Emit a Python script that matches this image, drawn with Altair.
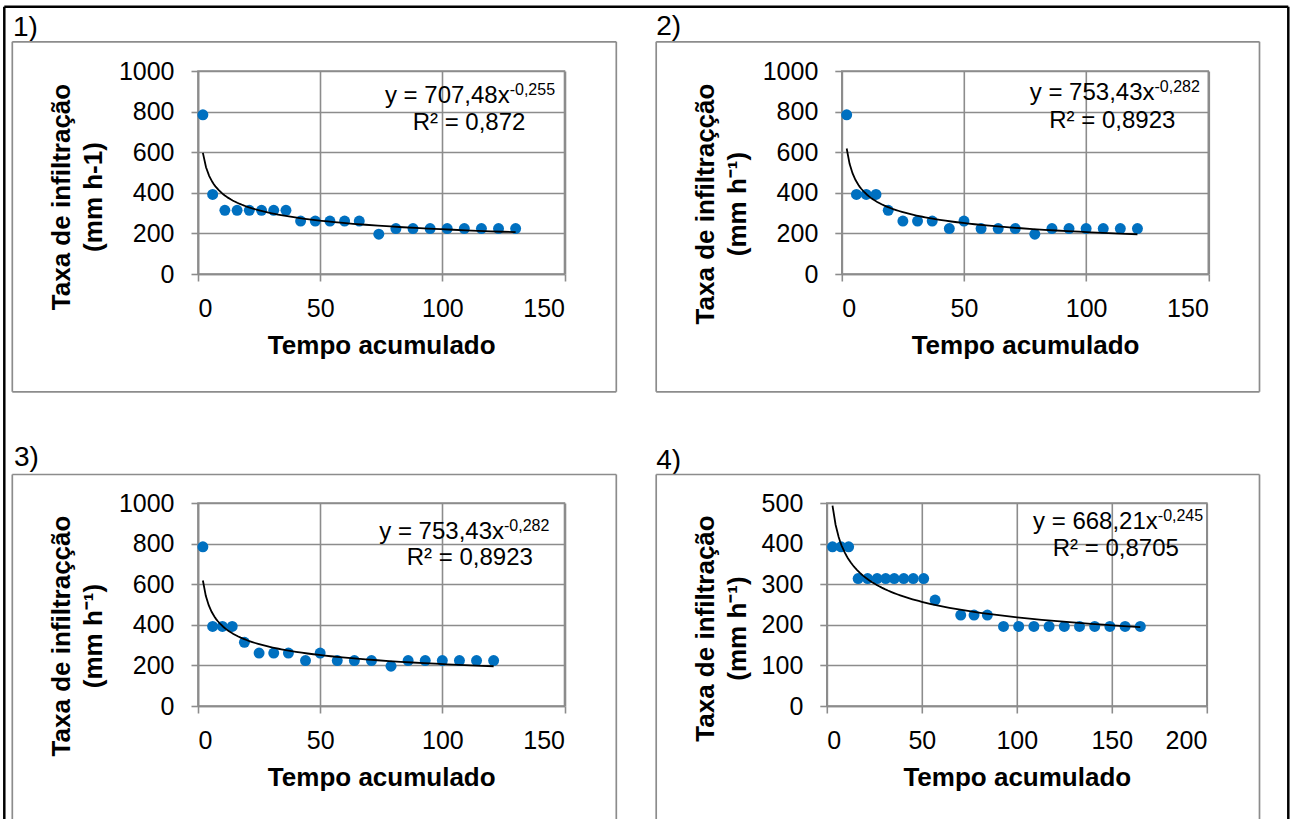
import altair as alt
import pandas as pd

FONT = "Liberation Sans"
GRID = "#8c8c8c"
BLUE = "#0070C0"

# ---- data ----
t1 = [2, 6, 11, 16, 21, 26, 31, 36, 42, 48, 54, 60, 66, 74, 81, 88, 95, 102, 109, 116, 123, 130]
y1 = [784, 392, 314, 314, 314, 314, 314, 314, 261, 261, 261, 261, 261, 196, 224, 224, 224, 224, 224, 224, 224, 224]

t2 = [2, 6, 10, 14, 19, 25, 31, 37, 44, 50, 57, 64, 71, 79, 86, 93, 100, 107, 114, 121]
y2 = [784, 392, 392, 392, 314, 261, 261, 261, 224, 261, 224, 224, 224, 196, 224, 224, 224, 224, 224, 224]

t3 = [2, 6, 10, 14, 19, 25, 31, 37, 44, 50, 57, 64, 71, 79, 86, 93, 100, 107, 114, 121]
y3 = [784, 392, 392, 392, 314, 261, 261, 261, 224, 261, 224, 224, 224, 196, 224, 224, 224, 224, 224, 224]

t4 = [3, 7.5, 11.5, 16.5, 21.5, 26.5, 31, 35.5, 40.5, 45.5, 51, 57, 70.5, 77.5, 84.5,
      93, 101, 109, 117, 125, 133, 141, 149, 157, 165]
y4 = [392, 392, 392, 314, 314, 314, 314, 314, 314, 314, 314, 261, 224, 224, 224,
      196, 196, 196, 196, 196, 196, 196, 196, 196, 196]

x_ticks_a = [0, 50, 100, 150]
x_ticks_b = [0, 50, 100, 150, 200]
y_ticks_a = [0, 200, 400, 600, 800, 1000]
y_ticks_b = [0, 100, 200, 300, 400, 500]

labels = ["1)", "2)", "3)", "4)"]
x_title = "Tempo acumulado"
y_titles = [
    ["Taxa de infiltração", "(mm h-1)"],
    ["Taxa de infiltraçção", "(mm h⁻¹)"],
    ["Taxa de infiltraçção", "(mm h⁻¹)"],
    ["Taxa de infiltração", "(mm h⁻¹)"],
]
eq_main = ["y = 707,48x", "y = 753,43x", "y = 753,43x", "y = 668,21x"]
eq_sup = ["-0,255", "-0,282", "-0,282", "-0,245"]
eq_r2 = ["R² = 0,872", "R² = 0,8923", "R² = 0,8923", "R² = 0,8705"]


def txt(s, x, y, size, align="left", weight="normal"):
    return alt.Chart(pd.DataFrame({"s": [s]})).mark_text(
        align=align, baseline="alphabetic", font=FONT, fontSize=size,
        fontWeight=weight, color="black"
    ).encode(text="s:N", x=alt.value(x), y=alt.value(y))


def rule(x1, x2, y1, y2, color=GRID, width=1.7):
    return alt.Chart(pd.DataFrame({"k": [0]})).mark_rule(
        color=color, strokeWidth=width
    ).encode(x=alt.value(x1), x2=alt.value(x2), y=alt.value(y1), y2=alt.value(y2))


def panel(i, t, y, xticks, yticks, w, h, title_x, title_y,
          eq_right, eq_base, r2_center, r2_base,
          box, closed, lab_x, lab_y, extra=None):
    df = pd.DataFrame({"t": t, "y": y})
    xenc = alt.X("t:Q", scale=alt.Scale(domain=[xticks[0], xticks[-1]], nice=False),
                 axis=alt.Axis(values=xticks, format="d", title=x_title, titleX=w / 2, titleY=79,
                               titleAlign="center", titleBaseline="alphabetic",
                               labelPadding=15))
    yenc = alt.Y("y:Q", scale=alt.Scale(domain=[yticks[0], yticks[-1]], nice=False),
                 axis=alt.Axis(values=yticks, format="d", title=y_titles[i],
                               titleX=title_x, titleY=title_y,
                               titleAngle=270, titleAlign="center", titleBaseline="middle",
                               titleLineHeight=32, labelPadding=17))
    pts = alt.Chart(df).mark_circle(size=120, opacity=1, color=BLUE).encode(x=xenc, y=yenc)
    fit = alt.Chart(df).transform_regression("t", "y", method="pow").mark_line(
        color="black", strokeWidth=1.8).encode(x=xenc, y=yenc)
    layers = [pts, fit,
              txt(eq_main[i], eq_right, eq_base, 24, align="right"),
              txt(eq_sup[i], eq_right, eq_base - 8, 16, align="left"),
              txt(eq_r2[i], r2_center, r2_base, 24, align="center"),
              txt(labels[i], lab_x, lab_y, 28)]
    bx1, bx2, by1, by2 = box
    layers += [rule(bx1, bx2, by1, by1), rule(bx1, bx1, by1, by2), rule(bx2, bx2, by1, by2)]
    if closed:
        layers.append(rule(bx1, bx2, by2, by2))
    if extra:
        layers += extra
    return alt.layer(*layers).properties(width=w, height=h)


W = 366.5
W4 = 380
H = 203

# anchor (invisible) and outer black frame, drawn in panel 1's coordinates
anchor = alt.Chart(pd.DataFrame({"k": [0]})).mark_rect(opacity=0).encode(
    x=alt.value(-196.5), x2=alt.value(0), y=alt.value(-70), y2=alt.value(0))
frame = [anchor,
         rule(-193.7, 1090.3, -64.2, -64.2, color="black", width=2.5),
         rule(-193.7, -193.7, -64.2, 748, color="black", width=2.5),
         rule(1090.3, 1090.3, -64.2, 748, color="black", width=2.5)]

p1 = panel(0, t1, y1, x_ticks_a, y_ticks_a, W, H, -136.5, 125.5,
           311.7, 31.5, 271, 59.2, (-185.7, 418.3, -29.2, 320.8), True, -185, -35.5, frame)
p2 = panel(1, t2, y2, x_ticks_a, y_ticks_a, W, H, -136.5, 132.5,
           312.7, 29.2, 270.5, 57, (-185.6, 417.7, -29.2, 320.8), True, -185.6, -35.8)
p3 = panel(2, t3, y3, x_ticks_a, y_ticks_a, W, H, -136.5, 132.5,
           306, 36.2, 271.8, 62.2, (-185.7, 418.3, -28.5, 316), False, -184, -37.5)
p4 = panel(3, t4, y4, x_ticks_b, y_ticks_b, W4, H, -121, 125,
           331, 25.7, 289, 53, (-170.6, 432.7, -28.5, 316), False, -170.6, -34.5)

row1 = alt.hconcat(p1, p2, spacing=276.8, bounds="flush")
row2 = alt.hconcat(p3, p4, spacing=261.8, bounds="flush")

chart = alt.vconcat(row1, row2, spacing=432, bounds="flush").properties(
    padding={"left": 0, "top": 0, "right": 0, "bottom": 0},
    background="white",
).configure_view(
    stroke=GRID, strokeWidth=1.6
).configure_axis(
    grid=True, gridColor=GRID, gridWidth=1.6, gridOpacity=1,
    domainColor=GRID, domainWidth=1.6,
    tickColor=GRID, tickSize=7, tickWidth=1.6,
    labelFont=FONT, labelFontSize=25, labelColor="black",
    titleFont=FONT, titleFontSize=26, titleFontWeight="bold", titleColor="black",
)

chart.save("out.html", embed_options={"renderer": "svg", "actions": False})
